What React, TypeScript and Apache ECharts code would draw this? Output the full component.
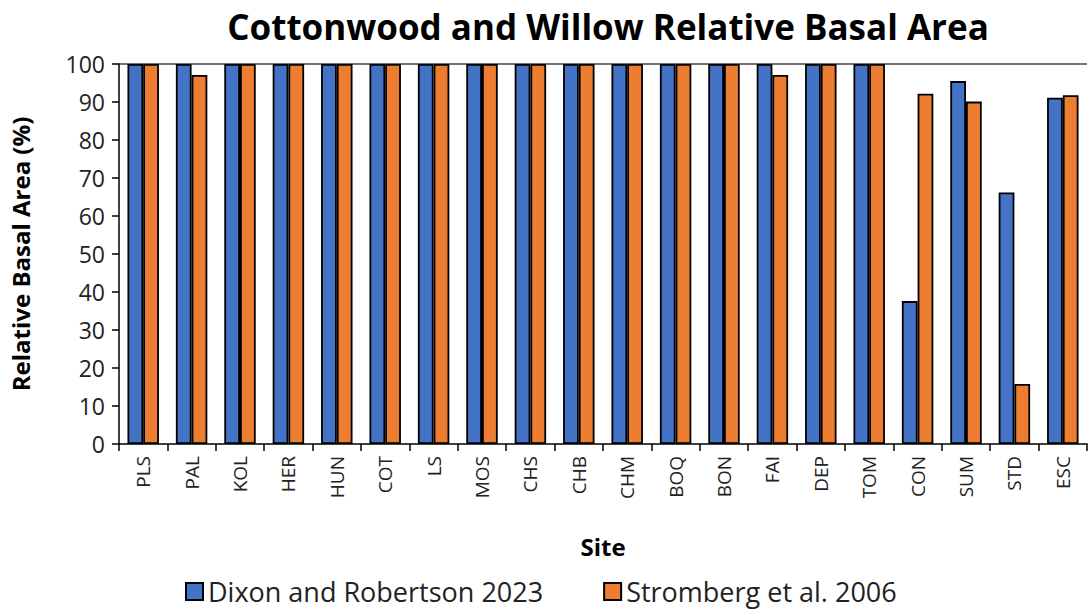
import React, { useEffect, useRef } from "react";
import * as echarts from "echarts";

const sites = ["PLS","PAL","KOL","HER","HUN","COT","LS","MOS","CHS","CHB","CHM","BOQ","BON","FAI","DEP","TOM","CON","SUM","STD","ESC"];
const dixon = [100,100,100,100,100,100,100,100,100,100,100,100,100,100,100,100,37.6,95.5,66.2,91.1];
const stromberg = [100,97.1,100,100,100,100,100,100,100,100,100,100,100,97.1,100,100,92.2,90.1,15.8,91.8];
const yTicks = [0,10,20,30,40,50,60,70,80,90,100];

const FONT = "'Open Sans', 'Noto Sans', sans-serif";

export default function App() {
  const ref = useRef<HTMLDivElement>(null);
  useEffect(() => {
    if (!ref.current) return;
    const chart = echarts.init(ref.current, undefined, { renderer: "svg" });
    chart.setOption({
      animation: false,
      backgroundColor: "#fff",
      title: {
        text: "Cottonwood and Willow Relative Basal Area",
        left: 603, top: 4, textAlign: "center",
        textStyle: { fontFamily: FONT, fontSize: 35, fontWeight: "bold", color: "#000" },
      },
      legend: {
        bottom: 0, left: 180, itemGap: 60, itemWidth: 17, itemHeight: 17,
        icon: "rect",
        textStyle: { fontFamily: FONT, fontSize: 27, color: "#222" },
        data: ["Dixon and Robertson 2023", "Stromberg et al. 2006"],
      },
      grid: { left: 113, right: 2, top: 64, bottom: 166, containLabel: false },
      xAxis: {
        type: "category", data: sites,
        name: "Site", nameLocation: "middle", nameGap: 90,
        nameTextStyle: { fontFamily: FONT, fontSize: 24, fontWeight: "bold", color: "#000" },
        axisLine: { lineStyle: { color: "#000", width: 1.5 } },
        axisTick: { show: true, alignWithLabel: false, length: 7, lineStyle: { color: "#000", width: 1.5 } },
        axisLabel: { rotate: 90, fontFamily: FONT, fontSize: 19, color: "#222", margin: 12 },
      },
      yAxis: {
        type: "value", min: 0, max: 100, interval: 10,
        name: "Relative Basal Area (%)", nameLocation: "middle", nameGap: 87,
        nameTextStyle: { fontFamily: FONT, fontSize: 24, fontWeight: "bold", color: "#000" },
        axisLine: { show: true, lineStyle: { color: "#000", width: 1.5 } },
        axisTick: { show: true, inside: false, length: 7, lineStyle: { color: "#000", width: 1.5 } },
        axisLabel: { fontFamily: FONT, fontSize: 23, color: "#222", margin: 14,
          formatter: (v: number) => (yTicks.includes(v) ? String(v) : "") },
        splitLine: { show: true, lineStyle: { color: [...Array(10).fill("rgba(0,0,0,0)"), "#444"], width: 1.5 } },
      },
      series: [
        {
          name: "Dixon and Robertson 2023", type: "bar", data: dixon,
          barGap: "0%", barCategoryGap: "35%",
          itemStyle: { color: "#4472C4", borderColor: "#000", borderWidth: 1.8 },
        },
        {
          name: "Stromberg et al. 2006", type: "bar", data: stromberg,
          itemStyle: { color: "#ED7D31", borderColor: "#000", borderWidth: 1.8 },
        },
      ],
    });
    return () => chart.dispose();
  }, []);
  return <div ref={ref} style={{ width: 1089, height: 610, position: "absolute", left: 0, top: 0 }} />;
}
